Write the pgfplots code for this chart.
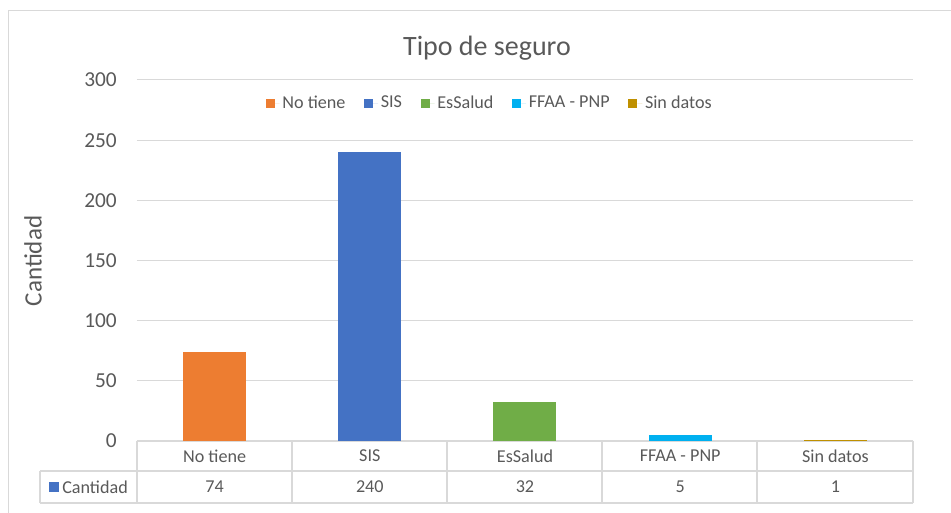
\documentclass[border=0pt]{standalone}
\usepackage{pgfplots}
\pgfplotsset{compat=1.18}
\usepackage{fontspec}
\setmainfont{Carlito}
\definecolor{cOrange}{HTML}{ED7D31}
\definecolor{cBlue}{HTML}{4472C4}
\definecolor{cGreen}{HTML}{70AD47}
\definecolor{cLight}{HTML}{00B0F0}
\definecolor{cGold}{HTML}{BF9000}
\definecolor{txt}{HTML}{595959}
\definecolor{grid}{HTML}{D9D9D9}
\pgfplotsset{
  sqbar/.style={ybar, bar width=47.25pt, bar shift=0pt, draw=none, fill=#1,
    legend image code/.code={\path[fill=#1,draw=none] (0pt,-3.4pt) rectangle (6.8pt,3.4pt); \path (6.8pt,0pt) -- (10.5pt,0pt);}},
}
\begin{document}
\begin{tikzpicture}
\begin{scope}[x=0.75pt,y=0.75pt]
\useasboundingbox (0,0) rectangle (951,513);
\draw[grid, line width=0.75pt] (8,-10) -- (8,502) -- (960,502);
\node[font=\fontsize{21}{25}\selectfont, text=txt] at (487,465) {Tipo de seguro};
\node[rotate=90, font=\fontsize{18.75}{22}\selectfont, text=txt] at (33,252) {Cantidad};
\draw[grid, line width=1.1pt] (137,72) -- (913,72);
\draw[grid, line width=1.1pt] (40,42) -- (913,42);
\draw[grid, line width=1.1pt] (40,10) -- (913,10);
\draw[grid, line width=1.1pt] (40,42) -- (40,10);
\foreach \xx in {137,292,447,602,757,913} \draw[grid, line width=1.1pt] (\xx,72) -- (\xx,10);
\fill[cBlue] (49,21) rectangle (59,31);
\node[anchor=west, inner sep=0pt, font=\fontsize{13.6}{16}\selectfont, text=txt] at (62,26) {Cantidad};
\end{scope}
\begin{axis}[
  at={(102.75pt,54pt)}, anchor=south west,
  scale only axis, width=582pt, height=270.75pt,
  xmin=-0.5, xmax=4.5, ymin=0, ymax=300,
  ytick={0,50,...,300},
  xtick={0,1,2,3,4},
  xticklabels={No tiene, SIS, EsSalud, FFAA - PNP, Sin datos},
  ymajorgrids, grid style={draw=grid, line width=0.75pt},
  axis line style={draw=none}, major tick length=0pt,
  /pgf/number format/assume math mode=true,
  yticklabel style={font=\fontsize{16}{19}\selectfont, text=txt, anchor=east, inner sep=0pt, xshift=-15pt},
  xticklabel style={font=\fontsize{13.6}{16}\selectfont, text=txt, anchor=center, yshift=-11.25pt},
  clip=false,
  legend columns=5,
  legend style={at={(0.455,0.936)}, anchor=center, draw=none, fill=none,
    font=\fontsize{13.6}{16}\selectfont, text=txt,
    /tikz/every even column/.append style={column sep=12pt}},
]
\addplot[sqbar=cOrange] coordinates {(0,74)};
\addplot[sqbar=cBlue] coordinates {(1,240)};
\addplot[sqbar=cGreen] coordinates {(2,32)};
\addplot[sqbar=cLight] coordinates {(3,5)};
\addplot[sqbar=cGold] coordinates {(4,1)};
\legend{No tiene, SIS, EsSalud, FFAA - PNP, Sin datos}
\addplot[forget plot, draw=none, mark=none, nodes near coords, point meta=explicit symbolic,
  nodes near coords style={anchor=center, yshift=-34.5pt, font=\fontsize{13.6}{16}\selectfont, text=txt}]
  coordinates {(0,0) [74] (1,0) [240] (2,0) [32] (3,0) [5] (4,0) [1]};
\end{axis}
\end{tikzpicture}
\end{document}
